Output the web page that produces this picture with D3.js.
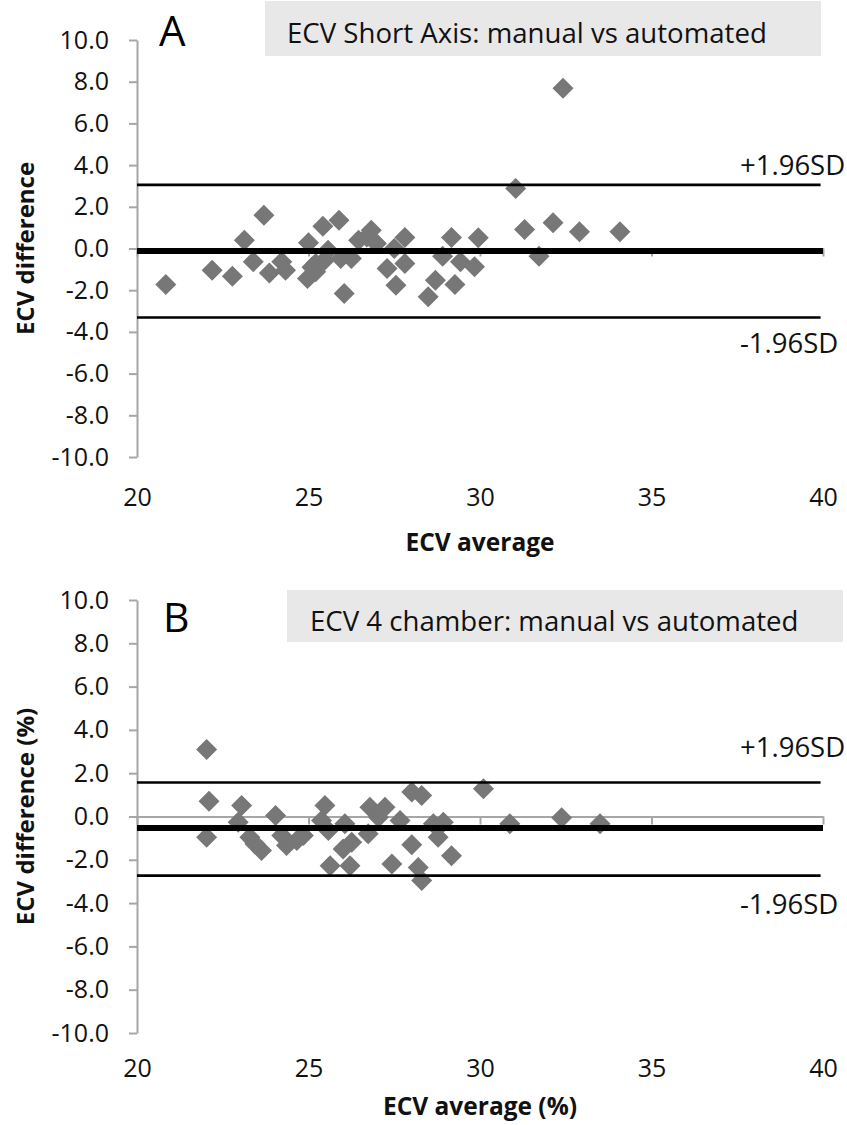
<!DOCTYPE html>
<html>
<head>
<meta charset="utf-8">
<script src="https://cdn.jsdelivr.net/npm/d3@7"></script>
<style>
  html, body { margin: 0; padding: 0; background: #fff; }
  svg { display: block; font-family: "Open Sans", "DejaVu Sans", sans-serif; }
</style>
</head>
<body>
<svg id="chart" width="847" height="1125"></svg>
<script>
// ---------- DATA ----------
const xTicks = [20, 25, 30, 35, 40];
const yTicks = [10, 8, 6, 4, 2, 0, -2, -4, -6, -8, -10];

const panelLetters = ["A", "B"];
const panelTitles = ["ECV Short Axis: manual vs automated", "ECV 4 chamber: manual vs automated"];
const xAxisTitles = ["ECV average", "ECV average (%)"];
const yAxisTitles = ["ECV difference", "ECV difference (%)"];
const limitLabels = ["+1.96SD", "-1.96SD"];

// Panel A: Short axis (average, difference)
const avgA = [20.84, 22.19, 22.78, 23.13, 23.39, 23.70, 23.86, 24.22, 24.33, 25.00,
              24.97, 25.21, 25.42, 25.89, 25.57, 25.47, 25.94, 26.25, 26.04, 26.46,
              26.83, 26.98, 27.50, 27.81, 27.29, 27.81, 27.55, 28.49, 28.70, 28.91,
              29.17, 29.43, 29.27, 29.84, 29.95, 31.04, 31.30, 31.72, 32.13, 32.90,
              34.08, 32.42, 25.21, 25.10, 26.70];
const diffA = [-1.73, -1.04, -1.33, 0.40, -0.64, 1.60, -1.17, -0.64, -1.04, 0.27,
               -1.44, -1.12, 1.07, 1.36, -0.08, -0.56, -0.48, -0.48, -2.16, 0.40,
               0.88, 0.24, 0.00, 0.53, -0.96, -0.72, -1.76, -2.32, -1.52, -0.37,
               0.53, -0.64, -1.73, -0.88, 0.51, 2.88, 0.91, -0.37, 1.23, 0.80,
               0.80, 7.68, -0.72, -0.90, 0.55];
const meanA = -0.12, upperA = 3.05, lowerA = -3.31;

// Panel B: 4 chamber (average, difference)
const avgB = [22.03, 22.10, 22.03, 23.05, 22.95, 23.29, 23.63, 23.44, 24.04, 24.36,
              24.22, 24.85, 24.66, 25.48, 25.38, 25.58, 26.06, 26.01, 26.26, 25.63,
              26.21, 26.79, 27.23, 27.04, 26.74, 27.67, 28.01, 28.30, 28.01, 27.43,
              28.20, 28.30, 28.64, 28.93, 28.78, 29.17, 30.10, 30.87, 32.38, 33.50];
const diffB = [3.09, 0.71, -0.96, 0.51, -0.26, -0.96, -1.57, -1.27, 0.05, -1.34,
               -0.88, -0.88, -1.11, 0.51, -0.19, -0.65, -0.34, -1.50, -1.19, -2.27,
               -2.27, 0.43, 0.43, -0.03, -0.80, -0.19, 1.13, 0.97, -1.30, -2.19,
               -2.35, -2.96, -0.34, -0.26, -0.96, -1.81, 1.28, -0.34, -0.06, -0.34];
const meanB = -0.53, upperB = 1.57, lowerB = -2.73;

// ---------- LAYOUT ----------
const svg = d3.select("#chart");
const panels = [
  { letter: panelLetters[0], title: panelTitles[0], xt: xAxisTitles[0], yt: yAxisTitles[0],
    avg: avgA, diff: diffA, mean: meanA, upper: upperA, lower: lowerA,
    yTop: 40, yBot: 457, box: [265, 1, 556, 55], titleX: 287, titleY: 43,
    letterX: 159, letterY: 46, letterSize: 42, tickPad: 31, xTitleY: 551,
    upLabY: 175, loLabY: 353 },
  { letter: panelLetters[1], title: panelTitles[1], xt: xAxisTitles[1], yt: yAxisTitles[1],
    avg: avgB, diff: diffB, mean: meanB, upper: upperB, lower: lowerB,
    yTop: 600, yBot: 1033, box: [287, 590, 556, 52], titleX: 310, titleY: 631,
    letterX: 163, letterY: 632, letterSize: 41, tickPad: 26, xTitleY: 1115,
    upLabY: 757, loLabY: 914 }
];

const axisGray = "#a6a6a6";
const markerGray = "#777777";
const r = 10.5;
const diamond = "M0," + (-r) + "L" + r + ",0L0," + r + "L" + (-r) + ",0Z";

panels.forEach(p => {
  const x = d3.scaleLinear().domain([20, 40]).range([137, 823]);
  const y = d3.scaleLinear().domain([-10, 10]).range([p.yBot, p.yTop]);
  const g = svg.append("g");

  // title box
  g.append("rect")
    .attr("x", p.box[0]).attr("y", p.box[1])
    .attr("width", p.box[2]).attr("height", p.box[3])
    .attr("fill", "#e8e8e8");
  g.append("text")
    .attr("x", p.titleX).attr("y", p.titleY)
    .attr("font-size", 27.6).attr("fill", "#111")
    .text(p.title);

  // panel letter
  g.append("text")
    .attr("x", p.letterX).attr("y", p.letterY)
    .attr("font-size", p.letterSize).attr("fill", "#000")
    .text(p.letter);

  // y axis
  const yAxis = d3.axisLeft(y).tickValues(yTicks)
    .tickFormat(d => d.toFixed(1)).tickSizeInner(8).tickSizeOuter(0).tickPadding(20);
  const gy = g.append("g").attr("transform", "translate(137,0)").call(yAxis);
  gy.select(".domain").attr("stroke", axisGray).attr("stroke-width", 2);
  gy.selectAll(".tick line").attr("stroke", axisGray).attr("stroke-width", 2);
  gy.selectAll(".tick text").attr("font-size", 25).attr("fill", "#111")
    .attr("font-family", "'Open Sans', sans-serif");

  // x axis line at zero with ticks
  const xAxis = d3.axisBottom(x).tickValues(xTicks).tickFormat("")
    .tickSizeInner(8).tickSizeOuter(0);
  const gx = g.append("g").attr("transform", "translate(0," + y(0) + ")").call(xAxis);
  gx.select(".domain").attr("stroke", axisGray).attr("stroke-width", 2);
  gx.selectAll(".tick line").attr("stroke", axisGray).attr("stroke-width", 2);

  // x tick labels at bottom
  const xLab = d3.axisBottom(x).tickValues(xTicks).tickFormat(d => String(d))
    .tickSize(0).tickPadding(p.tickPad);
  const gxl = g.append("g").attr("transform", "translate(0," + p.yBot + ")").call(xLab);
  gxl.select(".domain").remove();
  gxl.selectAll(".tick text").attr("font-size", 25).attr("fill", "#111")
    .attr("font-family", "'Open Sans', sans-serif");

  // axis titles
  g.append("text")
    .attr("x", 480).attr("y", p.xTitleY)
    .attr("text-anchor", "middle").attr("font-size", 24.5).attr("font-weight", "bold")
    .attr("fill", "#111").text(p.xt);
  const yMid = (p.yTop + p.yBot) / 2;
  g.append("text")
    .attr("transform", "translate(34," + yMid + ") rotate(-90)")
    .attr("text-anchor", "middle").attr("font-size", 24).attr("font-weight", "bold")
    .attr("fill", "#111").text(p.yt);

  // points
  const pts = p.avg.map((a, i) => [a, p.diff[i]]);
  g.append("g").selectAll("path").data(pts).join("path")
    .attr("d", diamond)
    .attr("transform", d => "translate(" + x(d[0]) + "," + y(d[1]) + ")")
    .attr("fill", markerGray);

  // limit lines
  g.append("line")
    .attr("x1", x(20)).attr("x2", x(39.93))
    .attr("y1", y(p.upper)).attr("y2", y(p.upper))
    .attr("stroke", "#000").attr("stroke-width", 2.6);
  g.append("line")
    .attr("x1", x(20)).attr("x2", x(39.93))
    .attr("y1", y(p.lower)).attr("y2", y(p.lower))
    .attr("stroke", "#000").attr("stroke-width", 2.6);
  g.append("line")
    .attr("x1", x(20)).attr("x2", x(40))
    .attr("y1", y(p.mean)).attr("y2", y(p.mean))
    .attr("stroke", "#000").attr("stroke-width", 6);

  // limit labels
  g.append("text").attr("x", 740).attr("y", p.upLabY)
    .attr("font-size", 27.5).attr("fill", "#111").text(limitLabels[0]);
  g.append("text").attr("x", 740).attr("y", p.loLabY)
    .attr("font-size", 27.5).attr("fill", "#111").text(limitLabels[1]);
});
</script>
</body>
</html>
